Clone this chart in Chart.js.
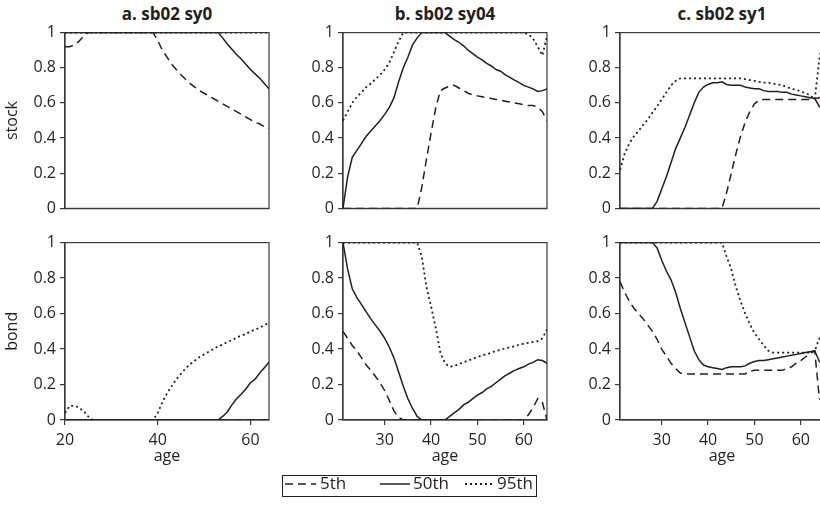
<!DOCTYPE html>
<html>
<head>
<meta charset="utf-8">
<title>Stock and bond shares by age</title>
<script src="https://cdn.jsdelivr.net/npm/chart.js@4.4.1/dist/chart.umd.min.js"></script>
<style>
  html, body { margin: 0; padding: 0; background: #fff; overflow: hidden; }
  body { position: relative; width: 820px; height: 505px; font-family: 'Open Sans', sans-serif; color: #231f20; }
  canvas { position: absolute; }
  .panel-title { position: absolute; width: 204px; text-align: center; font-weight: bold; font-size: 17px; line-height: 17px; white-space: nowrap; }
  .legend-box { position: absolute; left: 282px; top: 475px; width: 255px; height: 22px; border: 1px solid #231f20; box-sizing: border-box; }
  .legend-text { position: absolute; font-size: 17px; line-height: 17px; white-space: nowrap; }
  .legend-line { position: absolute; }
</style>
</head>
<body>
<script>
/**
 * Portfolio shares (stock / bond) by age, 5th / 50th / 95th percentiles,
 * for three scenarios: sb02 sy0, sb02 sy04, sb02 sy1
 */

// x values (age)
const AGES_A = [20, 21, 22, 23, 24, 25, 26, 27, 28, 29, 30, 31, 32, 33, 34, 35, 36, 37, 38, 39,
  40, 41, 42, 43, 44, 45, 46, 47, 48, 49, 50, 51, 52, 53, 54, 55, 56, 57, 58, 59, 60, 61, 62, 63, 64];
const AGES_BC = [21, 22, 23, 24, 25, 26, 27, 28, 29, 30, 31, 32, 33, 34, 35, 36, 37, 38, 39, 40,
  41, 42, 43, 44, 45, 46, 47, 48, 49, 50, 51, 52, 53, 54, 55, 56, 57, 58, 59, 60, 61, 62, 63, 64, 65];

// tick labels
const X_TICKS_A = [20, 40, 60];
const X_TICKS_BC = [30, 40, 50, 60];
const Y_TICKS = [0, 0.2, 0.4, 0.6, 0.8, 1];
const Y_TICK_LABELS = ['0', '0.2', '0.4', '0.6', '0.8', '1'];

const PANEL_TITLES = ['a. sb02 sy0', 'b. sb02 sy04', 'c. sb02 sy1'];
const ROW_TITLES = ['stock', 'bond'];
const SERIES_NAMES = ['5th', '50th', '95th'];

// a. sb02 sy0
const A_STOCK_P5 = [0.92, 0.92, 0.93, 0.95, 0.98,
  1, 1, 1, 1, 1, 1, 1, 1, 1, 1, 1, 1, 1, 1, 1,
  0.955, 0.90, 0.86, 0.82, 0.79, 0.76, 0.735, 0.71, 0.69, 0.67,
  0.655, 0.64, 0.625, 0.61, 0.595, 0.58, 0.565, 0.55, 0.535, 0.52,
  0.505, 0.49, 0.48, 0.465, 0.455];
const A_STOCK_P50 = [1, 1, 1, 1, 1, 1, 1, 1, 1, 1,
  1, 1, 1, 1, 1, 1, 1, 1, 1, 1,
  1, 1, 1, 1, 1, 1, 1, 1, 1, 1,
  1, 1, 1, 1,
  0.97, 0.935, 0.905, 0.875, 0.85, 0.82, 0.79, 0.765, 0.74, 0.71, 0.68];
const A_STOCK_P95 = [1, 1, 1, 1, 1, 1, 1, 1, 1, 1,
  1, 1, 1, 1, 1, 1, 1, 1, 1, 1,
  1, 1, 1, 1, 1, 1, 1, 1, 1, 1,
  1, 1, 1, 1, 1, 1, 1, 1, 1, 1,
  1, 1, 1, 1, 1];
const A_BOND_P5 = [0, 0, 0, 0, 0, 0, 0, 0, 0, 0,
  0, 0, 0, 0, 0, 0, 0, 0, 0, 0,
  0, 0, 0, 0, 0, 0, 0, 0, 0, 0,
  0, 0, 0, 0, 0, 0, 0, 0, 0, 0,
  0, 0, 0, 0, 0];
const A_BOND_P50 = [0, 0, 0, 0, 0, 0, 0, 0, 0, 0,
  0, 0, 0, 0, 0, 0, 0, 0, 0, 0,
  0, 0, 0, 0, 0, 0, 0, 0, 0, 0,
  0, 0, 0, 0,
  0.02, 0.045, 0.085, 0.12, 0.145, 0.175, 0.21, 0.23, 0.265, 0.295, 0.325];
const A_BOND_P95 = [0.04, 0.08, 0.08, 0.07, 0.05, 0.02,
  0, 0, 0, 0, 0, 0, 0, 0, 0, 0, 0, 0, 0, 0,
  0.04, 0.10, 0.15, 0.19, 0.23, 0.26, 0.29, 0.315, 0.335, 0.355,
  0.37, 0.385, 0.40, 0.415, 0.425, 0.44, 0.45, 0.465, 0.475, 0.485,
  0.50, 0.51, 0.52, 0.535, 0.548];

// b. sb02 sy04
const B_STOCK_P5 = [0, 0, 0, 0, 0, 0, 0, 0, 0, 0,
  0, 0, 0, 0, 0, 0, 0,
  0.12, 0.28, 0.43, 0.57, 0.67, 0.685, 0.695, 0.70, 0.685, 0.67,
  0.655, 0.645, 0.64, 0.635, 0.63, 0.625, 0.62, 0.615, 0.61, 0.605,
  0.60, 0.595, 0.59, 0.585, 0.585, 0.575, 0.55, 0.50];
const B_STOCK_P50 = [0, 0.18, 0.29, 0.33, 0.37, 0.41, 0.44, 0.47, 0.50, 0.535,
  0.575, 0.63, 0.72, 0.80, 0.86, 0.93, 0.97, 1, 1, 1,
  1, 1, 1, 0.98, 0.96, 0.945, 0.925, 0.90, 0.88, 0.86,
  0.845, 0.825, 0.81, 0.79, 0.78, 0.76, 0.745, 0.73, 0.715, 0.70,
  0.69, 0.68, 0.665, 0.67, 0.68];
const B_STOCK_P95 = [0.50, 0.55, 0.60, 0.635, 0.66, 0.69, 0.71, 0.735, 0.76, 0.79,
  0.83, 0.89, 0.95, 1, 1, 1, 1, 1, 1, 1,
  1, 1, 1, 1, 1, 1, 1, 1, 1, 1,
  1, 1, 1, 1, 1, 1, 1, 1, 1, 1,
  0.99, 0.965, 0.92, 0.87, 0.98];
const B_BOND_P5 = [0.50, 0.46, 0.42, 0.39, 0.35, 0.31, 0.28, 0.245, 0.21, 0.165,
  0.11, 0.05, 0.015, 0, 0, 0, 0, 0, 0, 0,
  0, 0, 0, 0, 0, 0, 0, 0, 0, 0,
  0, 0, 0, 0, 0, 0, 0, 0, 0, 0,
  0.03, 0.07, 0.12, 0.10, 0];
const B_BOND_P50 = [1, 0.85, 0.74, 0.69, 0.65, 0.61, 0.57, 0.535, 0.50, 0.46,
  0.41, 0.35, 0.27, 0.19, 0.12, 0.065, 0.02, 0, 0, 0,
  0, 0, 0, 0.02, 0.04, 0.06, 0.085, 0.10, 0.12, 0.14,
  0.155, 0.175, 0.19, 0.21, 0.23, 0.25, 0.265, 0.28, 0.29, 0.30,
  0.315, 0.325, 0.34, 0.335, 0.32];
const B_BOND_P95 = [1, 1, 1, 1, 1, 1, 1, 1, 1, 1,
  1, 1, 1, 1, 1, 1, 1, 0.92, 0.75, 0.64,
  0.52, 0.38, 0.32, 0.30, 0.305, 0.315, 0.325, 0.335, 0.345, 0.355,
  0.365, 0.37, 0.38, 0.39, 0.395, 0.405, 0.41, 0.415, 0.425, 0.43,
  0.435, 0.44, 0.445, 0.46, 0.51];

// c. sb02 sy1
const C_STOCK_P5 = [0, 0, 0, 0, 0, 0, 0, 0, 0, 0,
  0, 0, 0, 0, 0, 0, 0, 0, 0, 0,
  0, 0, 0, 0.09, 0.20, 0.31, 0.41, 0.49, 0.55, 0.595,
  0.615, 0.62, 0.62, 0.62, 0.62, 0.62, 0.62, 0.62, 0.62, 0.62,
  0.62, 0.62, 0.625, 0.63, 0.63];
const C_STOCK_P50 = [0, 0, 0, 0, 0, 0, 0, 0, 0.04, 0.11,
  0.18, 0.26, 0.34, 0.40, 0.46, 0.53, 0.60, 0.66, 0.69, 0.705,
  0.715, 0.715, 0.72, 0.705, 0.70, 0.70, 0.70, 0.69, 0.685, 0.68,
  0.68, 0.67, 0.665, 0.665, 0.665, 0.66, 0.66, 0.65, 0.645, 0.64,
  0.635, 0.63, 0.625, 0.58, 0.56];
const C_STOCK_P95 = [0.22, 0.31, 0.37, 0.41, 0.44, 0.475, 0.505, 0.545, 0.58, 0.62,
  0.66, 0.70, 0.725, 0.74, 0.74, 0.74, 0.74, 0.74, 0.74, 0.74,
  0.74, 0.74, 0.74, 0.74, 0.74, 0.74, 0.74, 0.735, 0.73, 0.725,
  0.72, 0.715, 0.715, 0.71, 0.705, 0.70, 0.69, 0.68, 0.675, 0.665,
  0.655, 0.645, 0.62, 0.85, 1];
const C_BOND_P5 = [0.78, 0.72, 0.67, 0.63, 0.60, 0.57, 0.535, 0.50, 0.455, 0.40,
  0.36, 0.32, 0.29, 0.265, 0.26, 0.26, 0.26, 0.26, 0.26, 0.26,
  0.26, 0.26, 0.26, 0.26, 0.26, 0.26, 0.26, 0.26, 0.275, 0.28,
  0.28, 0.28, 0.28, 0.28, 0.28, 0.28, 0.29, 0.30, 0.32, 0.335,
  0.355, 0.375, 0.39, 0.12, 0.10];
const C_BOND_P50 = [1, 1, 1, 1, 1, 1, 1, 1, 0.97, 0.90,
  0.84, 0.79, 0.72, 0.63, 0.55, 0.47, 0.39, 0.34, 0.31, 0.30,
  0.295, 0.29, 0.285, 0.295, 0.30, 0.30, 0.30, 0.305, 0.32, 0.33,
  0.335, 0.335, 0.34, 0.345, 0.35, 0.355, 0.36, 0.365, 0.37, 0.375,
  0.38, 0.385, 0.39, 0.33, 0.30];
const C_BOND_P95 = [1, 1, 1, 1, 1, 1, 1, 1, 1, 1,
  1, 1, 1, 1, 1, 1, 1, 1, 1, 1,
  1, 1, 1, 0.92, 0.85, 0.75, 0.67, 0.60, 0.54, 0.49,
  0.455, 0.42, 0.39, 0.38, 0.38, 0.38, 0.38, 0.38, 0.38, 0.38,
  0.38, 0.38, 0.39, 0.46, 0.50];

// Layout (px)
const PLOT_LEFT = [65, 343, 620];
const PLOT_TOP = [31, 241];
const PLOT_W = 204;
const PLOT_H = 179;
const AXIS_W = 65;
const PAD_TOP = 12;
const PAD_RIGHT = 12;

const INK = '#231f20';
const FRAME = '#3a3a3a';
const FONT = "'Open Sans', sans-serif";

const LINE_STYLES = [
  { borderDash: [8, 5], borderWidth: 1.5 },   // 5th
  { borderDash: [], borderWidth: 1.5 },       // 50th
  { borderDash: [2, 3], borderWidth: 1.8 }    // 95th
];

const PANELS = [
  { col: 0, row: 0, ages: AGES_A, xTicks: X_TICKS_A, series: [A_STOCK_P5, A_STOCK_P50, A_STOCK_P95] },
  { col: 1, row: 0, ages: AGES_BC, xTicks: X_TICKS_BC, series: [B_STOCK_P5, B_STOCK_P50, B_STOCK_P95] },
  { col: 2, row: 0, ages: AGES_BC, xTicks: X_TICKS_BC, series: [C_STOCK_P5, C_STOCK_P50, C_STOCK_P95] },
  { col: 0, row: 1, ages: AGES_A, xTicks: X_TICKS_A, series: [A_BOND_P5, A_BOND_P50, A_BOND_P95] },
  { col: 1, row: 1, ages: AGES_BC, xTicks: X_TICKS_BC, series: [B_BOND_P5, B_BOND_P50, B_BOND_P95] },
  { col: 2, row: 1, ages: AGES_BC, xTicks: X_TICKS_BC, series: [C_BOND_P5, C_BOND_P50, C_BOND_P95] }
];

/**
 * Box around the plot area (Chart.js only draws left/bottom borders)
 */
const frameBox = {
  id: 'frameBox',
  beforeDatasetsDraw(chart) {
    const { ctx, chartArea: a } = chart;
    ctx.save();
    ctx.strokeStyle = FRAME;
    ctx.lineWidth = 1.2;
    ctx.strokeRect(a.left, a.top, a.right - a.left, a.bottom - a.top);
    ctx.restore();
  }
};

/**
 * Build one small panel chart
 */
function buildPanel(panel) {
  const bottomRow = panel.row === 1;
  const xAxisH = bottomRow ? 50 : 12;

  const canvas = document.createElement('canvas');
  canvas.width = AXIS_W + PLOT_W + PAD_RIGHT;
  canvas.height = PAD_TOP + PLOT_H + xAxisH;
  canvas.style.left = (PLOT_LEFT[panel.col] - AXIS_W) + 'px';
  canvas.style.top = (PLOT_TOP[panel.row] - PAD_TOP) + 'px';
  document.body.appendChild(canvas);

  const datasets = panel.series.map((values, i) => ({
    label: SERIES_NAMES[i],
    data: values.map((v, k) => ({ x: panel.ages[k], y: v })),
    borderColor: INK,
    borderWidth: LINE_STYLES[i].borderWidth,
    borderDash: LINE_STYLES[i].borderDash,
    pointRadius: 0,
    tension: 0,
    fill: false
  }));

  return new Chart(canvas, {
    type: 'line',
    data: { datasets },
    options: {
      responsive: false,
      animation: false,
      layout: { padding: { top: PAD_TOP, right: PAD_RIGHT, left: 0, bottom: 0 } },
      plugins: {
        legend: { display: false },
        tooltip: { enabled: false }
      },
      scales: {
        x: {
          type: 'linear',
          min: panel.ages[0],
          max: panel.ages[panel.ages.length - 1],
          afterBuildTicks: (scale) => { scale.ticks = panel.xTicks.map(v => ({ value: v })); },
          afterFit: (scale) => { scale.height = xAxisH; },
          border: { display: true, color: FRAME, width: 1.2 },
          grid: { drawOnChartArea: false, drawTicks: bottomRow, tickLength: 5, color: FRAME, lineWidth: 1.2 },
          ticks: {
            display: bottomRow,
            autoSkip: false,
            maxRotation: 0,
            padding: 6,
            color: INK,
            font: { family: FONT, size: 16 },
            callback: (v) => String(v)
          },
          title: {
            display: bottomRow,
            text: 'age',
            color: INK,
            font: { family: FONT, size: 16 },
            padding: { top: 0, bottom: 4 }
          }
        },
        y: {
          min: 0,
          max: 1,
          afterBuildTicks: (scale) => { scale.ticks = Y_TICKS.map(v => ({ value: v })); },
          afterFit: (scale) => { scale.width = AXIS_W; },
          border: { display: true, color: FRAME, width: 1.2 },
          grid: { drawOnChartArea: false, drawTicks: true, tickLength: 5, color: FRAME, lineWidth: 1.2 },
          ticks: {
            padding: 4,
            color: INK,
            font: { family: FONT, size: 16 },
            callback: (v, i) => Y_TICK_LABELS[i]
          },
          title: {
            display: panel.col === 0,
            text: ROW_TITLES[panel.row],
            color: INK,
            font: { family: FONT, size: 16 },
            padding: { top: 3, bottom: 0 }
          }
        }
      }
    },
    plugins: [frameBox]
  });
}

/**
 * Column titles and the shared legend (plain HTML)
 */
function addTitles() {
  PANEL_TITLES.forEach((text, col) => {
    const el = document.createElement('div');
    el.className = 'panel-title';
    el.textContent = text;
    el.style.left = PLOT_LEFT[col] + 'px';
    el.style.top = '5px';
    document.body.appendChild(el);
  });
}

function lineSample(x, width, dash, lineWidth) {
  const ns = 'http://www.w3.org/2000/svg';
  const svg = document.createElementNS(ns, 'svg');
  svg.setAttribute('width', width);
  svg.setAttribute('height', 6);
  svg.setAttribute('class', 'legend-line');
  svg.style.left = x + 'px';
  svg.style.top = '481px';
  const line = document.createElementNS(ns, 'line');
  line.setAttribute('x1', 0);
  line.setAttribute('x2', width);
  line.setAttribute('y1', 3);
  line.setAttribute('y2', 3);
  line.setAttribute('stroke', INK);
  line.setAttribute('stroke-width', lineWidth);
  if (dash.length) line.setAttribute('stroke-dasharray', dash.join(' '));
  svg.appendChild(line);
  document.body.appendChild(svg);
}

function addLegend() {
  const box = document.createElement('div');
  box.className = 'legend-box';
  document.body.appendChild(box);

  const items = [
    { lineX: 285, lineW: 31, textX: 320 },
    { lineX: 380, lineW: 30, textX: 413 },
    { lineX: 465, lineW: 29, textX: 497 }
  ];
  items.forEach((item, i) => {
    lineSample(item.lineX, item.lineW, LINE_STYLES[i].borderDash, LINE_STYLES[i].borderWidth);
    const t = document.createElement('div');
    t.className = 'legend-text';
    t.textContent = SERIES_NAMES[i];
    t.style.left = item.textX + 'px';
    t.style.top = '474px';
    document.body.appendChild(t);
  });
}

addTitles();
PANELS.forEach(buildPanel);
addLegend();
</script>
</body>
</html>
